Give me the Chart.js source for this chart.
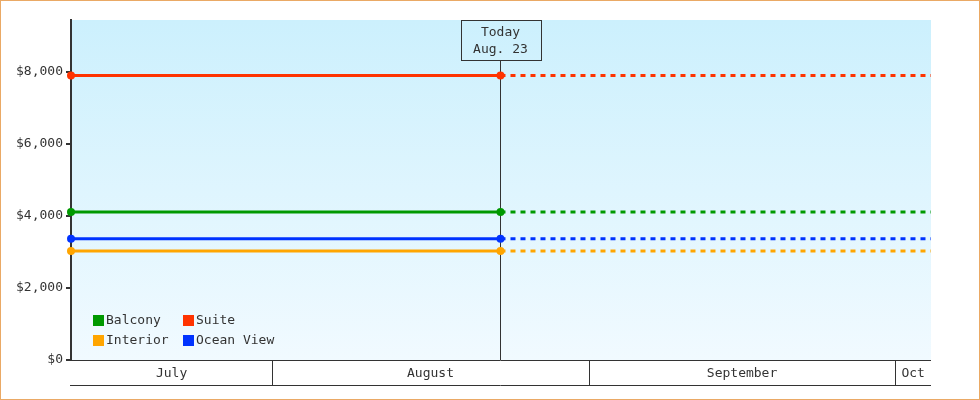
<!DOCTYPE html>
<html>
<head>
<meta charset="utf-8">
<script src="https://cdn.jsdelivr.net/npm/chart.js@4"></script>
<style>
  html, body { margin: 0; padding: 0; background: #fff; }
  #wrap { width: 980px; height: 400px; position: relative; }
</style>
</head>
<body>
<div id="wrap"><canvas id="c" width="980" height="400"></canvas></div>
<script>
// ---- data (x values are days counted from July 1 = 0) ----
const SERIES_NAMES = ['Balcony', 'Interior', 'Ocean View', 'Suite'];
const SERIES_COLORS = ['#009900', '#ffa500', '#0033ff', '#ff3300'];
const SERIES_VALUES = [4110, 3030, 3370, 7900];
const X_START = 11.3;      // ~July 12
const X_TODAY = 53.35;     // Aug. 23
const X_END = 95.5;        // ~Oct 4
const TODAY_LINES = ['Today', 'Aug. 23'];
const MONTH_STARTS = [0, 31, 62, 92, 123];
const MONTH_LABELS = ['July', 'August', 'September', 'Oct'];
const Y_TICKS = [0, 2000, 4000, 6000, 8000];
const Y_MAX = 9444;
const LEGEND_ORDER = ['Balcony', 'Suite', 'Interior', 'Ocean View'];

const FONT = '"DejaVu Sans Mono", "Liberation Mono", monospace';
const INK = '#333333';

const datasets = SERIES_NAMES.map((name, i) => ({
  label: name,
  data: [
    { x: X_START, y: SERIES_VALUES[i] },
    { x: X_TODAY, y: SERIES_VALUES[i] },
    { x: X_END, y: SERIES_VALUES[i] }
  ],
  borderColor: SERIES_COLORS[i],
  backgroundColor: SERIES_COLORS[i],
  pointBackgroundColor: SERIES_COLORS[i],
  borderWidth: 3,
  pointRadius: [4, 4, 0],
  pointBorderWidth: 0,
  pointHoverRadius: 0,
  tension: 0,
  clip: false,
  borderCapStyle: 'butt',
  segment: {
    borderDash: ctx => ctx.p0.parsed.x >= X_TODAY - 1e-6 ? [5, 5] : undefined
  }
}));

const bgPlugin = {
  id: 'bg',
  beforeDraw(chart) {
    const { ctx, chartArea: a } = chart;
    ctx.save();
    const g = ctx.createLinearGradient(0, a.top, 0, a.bottom);
    g.addColorStop(0, '#ccf0fd');
    g.addColorStop(1, '#f1faff');
    ctx.fillStyle = g;
    ctx.fillRect(a.left, a.top, a.right - a.left, a.bottom - a.top);
    ctx.restore();
  },
  beforeDatasetsDraw(chart) {
    const { ctx, chartArea: a } = chart;
    const xs = chart.scales.x;
    const tx = Math.round(xs.getPixelForValue(X_TODAY)) + 0.5;
    ctx.save();
    ctx.strokeStyle = INK;
    ctx.lineWidth = 1;
    // today box
    const bw = 80, bh = 40;
    const bx = Math.round(tx - bw / 2) + 0.5, by = a.top + 0.5;
    ctx.strokeRect(bx, by, bw, bh);
    ctx.beginPath();
    ctx.moveTo(tx, by + bh);
    ctx.lineTo(tx, a.bottom);
    ctx.stroke();
    ctx.fillStyle = INK;
    ctx.font = '13px ' + FONT;
    ctx.textAlign = 'center';
    ctx.textBaseline = 'middle';
    ctx.fillText(TODAY_LINES[0], tx, by + 12);
    ctx.fillText(TODAY_LINES[1], tx, by + 29);
    ctx.restore();
  },
  afterDraw(chart) {
    const { ctx, chartArea: a } = chart;
    const xs = chart.scales.x;
    ctx.save();
    // month band
    ctx.strokeStyle = INK;
    ctx.lineWidth = 1;
    const top = a.bottom + 0.5, bot = a.bottom + 25.5;
    ctx.beginPath();
    ctx.moveTo(a.left - 1, top); ctx.lineTo(a.right, top);
    ctx.moveTo(a.left - 1, bot); ctx.lineTo(a.right, bot);
    ctx.stroke();
    ctx.font = '13px ' + FONT;
    ctx.fillStyle = INK;
    ctx.textAlign = 'center';
    ctx.textBaseline = 'middle';
    for (let i = 0; i < MONTH_LABELS.length; i++) {
      const s = Math.max(MONTH_STARTS[i], X_START);
      const e = Math.min(MONTH_STARTS[i + 1], X_END);
      const ps = xs.getPixelForValue(s), pe = xs.getPixelForValue(e);
      if (MONTH_STARTS[i] > X_START) {
        const vx = Math.round(ps) + 0.5;
        ctx.beginPath();
        ctx.moveTo(vx, top); ctx.lineTo(vx, bot);
        ctx.stroke();
      }
      ctx.fillText(MONTH_LABELS[i], (ps + pe) / 2, top + 13);
    }
    // legend
    const lx = [a.left + 22, a.left + 112];
    const ly = [a.bottom - 45, a.bottom - 25];
    LEGEND_ORDER.forEach((name, k) => {
      const idx = SERIES_NAMES.indexOf(name);
      const x = lx[k % 2], y = ly[Math.floor(k / 2)];
      ctx.fillStyle = SERIES_COLORS[idx];
      ctx.fillRect(x, y, 11, 11);
      ctx.fillStyle = INK;
      ctx.textAlign = 'left';
      ctx.fillText(name, x + 13, y + 6);
    });
    // outer border
    ctx.strokeStyle = '#eaa965';
    ctx.lineWidth = 1;
    ctx.strokeRect(0.5, 0.5, chart.width - 1, chart.height - 1);
    ctx.restore();
  }
};

new Chart(document.getElementById('c'), {
  type: 'line',
  data: { datasets },
  plugins: [bgPlugin],
  options: {
    responsive: false,
    animation: false,
    devicePixelRatio: 1,
    layout: { padding: { top: 20, right: 49, bottom: 40, left: 0 } },
    plugins: { legend: { display: false }, tooltip: { enabled: false } },
    events: [],
    scales: {
      x: { type: 'linear', min: X_START, max: X_END, display: false },
      y: {
        min: 0, max: Y_MAX,
        afterFit(scale) { scale.width = 71; },
        afterBuildTicks(scale) { scale.ticks = Y_TICKS.map(v => ({ value: v })); },
        ticks: {
          color: INK,
          font: { family: FONT, size: 13 },
          padding: 3,
          callback: v => '$' + v.toLocaleString('en-US')
        },
        grid: { drawOnChartArea: false, color: INK, lineWidth: 2, tickLength: 5, tickWidth: 2 },
        border: { display: true, color: INK, width: 2 }
      }
    }
  }
});
</script>
</body>
</html>
